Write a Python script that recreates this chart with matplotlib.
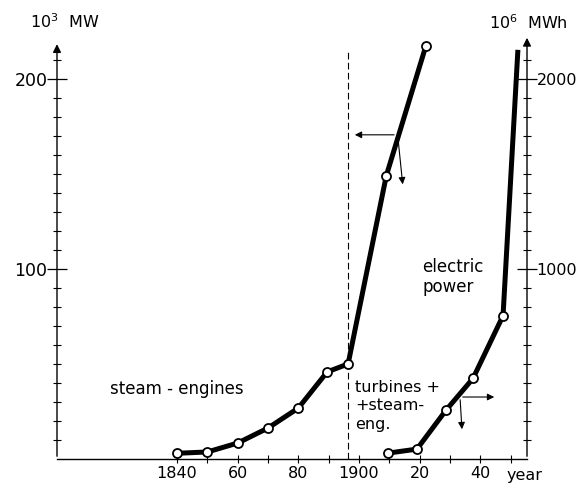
import matplotlib.pyplot as plt
from matplotlib.ticker import FixedLocator

# steam engines, 10^3 MW (left scale)
steam_years = [1840, 1850, 1860, 1870, 1880, 1889.5, 1896.4, 1909, 1922]
steam_mw = [3, 3.7, 8.4, 16.3, 26.8, 45.8, 50, 149, 217]

# electric power, 10^6 MWh (right scale)
elec_years = [1909.6, 1919.1, 1928.7, 1937.6, 1947.5, 1952.4]
elec_mwh = [31, 52, 257, 424, 754, 2152]
elec_marked = 5  # last point has no circle

xtick_pos = [1840, 1860, 1880, 1900, 1920, 1940]
xtick_lab = ["1840", "60", "80", "1900", "20", "40"]

fs = 12
plt.rcParams['font.family'] = ['DejaVu Sans']

fig = plt.figure(figsize=(5.79, 4.86), dpi=100)
ax = fig.add_axes([57/579, 27/486, 470/579, 424/486])
ax.set_xlim(1800.4, 1955.4)
ax.set_ylim(0, 223)
ax2 = ax.twinx()
ax2.set_ylim(0, 2230)

for a in (ax, ax2):
    for s in ('top', 'left', 'right'):
        a.spines[s].set_visible(False)
ax2.spines['bottom'].set_visible(False)
ax.spines['bottom'].set_linewidth(1.0)

# axis lines with arrow heads
ax.annotate('', xy=(0, 0.985), xytext=(0, 0), xycoords='axes fraction',
            arrowprops=dict(arrowstyle='-|>', lw=1.0, color='k', mutation_scale=12))
ax.annotate('', xy=(1, 1.0), xytext=(1, 0), xycoords='axes fraction',
            arrowprops=dict(arrowstyle='-|>', lw=1.0, color='k', mutation_scale=12))

# ticks
ax.xaxis.set_major_locator(FixedLocator(xtick_pos))
ax.set_xticklabels(xtick_lab, fontsize=11.5)
ax.xaxis.set_minor_locator(FixedLocator(range(1850, 1960, 10)))
ax.tick_params(axis='x', which='major', direction='inout', length=6, width=0.8, pad=2)
ax.tick_params(axis='x', which='minor', direction='inout', length=6, width=0.8)

ax.yaxis.set_major_locator(FixedLocator([100, 200]))
ax.yaxis.set_minor_locator(FixedLocator(range(10, 211, 10)))
ax.tick_params(axis='y', which='major', direction='inout', length=14, width=0.9, labelsize=12.5, pad=0)
ax.tick_params(axis='y', which='minor', direction='inout', length=6, width=0.8)

ax2.yaxis.set_major_locator(FixedLocator([1000, 2000]))
ax2.yaxis.set_minor_locator(FixedLocator(range(100, 2101, 100)))
ax2.tick_params(axis='y', which='major', direction='inout', length=14, width=0.9, labelsize=11.5, pad=0)
ax2.tick_params(axis='y', which='minor', direction='inout', length=6, width=0.8)

# dashed divider
ax.plot([steam_years[6], steam_years[6]], [0, 215], color='k', lw=0.8, ls=(0, (6, 3)))

# series
ax.plot(steam_years, steam_mw, color='k', lw=3.6, solid_capstyle='butt', zorder=3)
ax.plot(steam_years, steam_mw, 'o', ms=6.5, mfc='white', mec='k', mew=1.3, zorder=4)
ax2.plot(elec_years, elec_mwh, color='k', lw=3.6, solid_capstyle='butt', zorder=3)
ax2.plot(elec_years[:elec_marked], elec_mwh[:elec_marked], 'o', ms=6.5, mfc='white',
         mec='k', mew=1.3, zorder=4)

# pointer arrows
arr = dict(arrowstyle='-|>', lw=0.8, color='k', mutation_scale=10)
ax.annotate('', xy=(1897.7, 170.5), xytext=(1912.5, 170.5), arrowprops=arr)
ax.annotate('', xy=(1914.5, 143), xytext=(1912.9, 168), arrowprops=arr)
ax.annotate('', xy=(1945.5, 32.6), xytext=(1933.3, 32.6), arrowprops=arr)
ax.annotate('', xy=(1934, 14.2), xytext=(1933.3, 32.6), arrowprops=arr)

# labels
fig.text(30/579, 1 - 22/486, r'10$^3$  MW', fontsize=11.5, va='center', ha='left')
fig.text(489/579, 1 - 23/486, r'10$^6$  MWh', fontsize=11.5, va='center', ha='left')
fig.text(525/579, 1 - 475/486, 'year', fontsize=11.5, va='center', ha='center')
fig.text(110/579, 1 - 389/486, 'steam - engines', fontsize=fs, va='center', ha='left')
fig.text(355/579, 1 - 406/486, 'turbines +\n+steam-\neng.', fontsize=11.5, va='center',
         ha='left', linespacing=1.25)
fig.text(422/579, 1 - 277/486, 'electric\npower', fontsize=fs, va='center', ha='left',
         linespacing=1.2)

fig.savefig('out.png', dpi=100)
